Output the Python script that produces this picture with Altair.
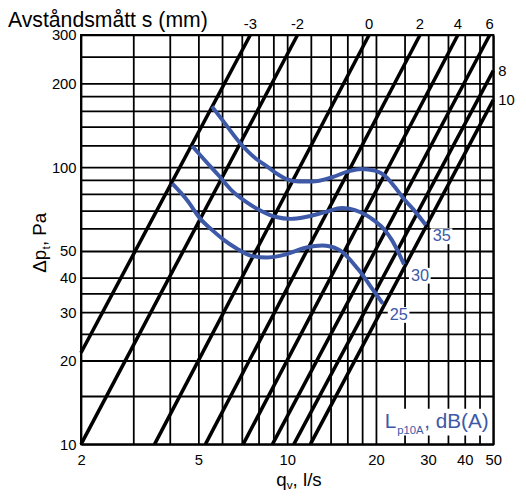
import altair as alt
import pandas as pd

# ---- grid / tick values ----
x_grid = [2, 3, 4, 5, 6, 7, 8, 9, 10, 12, 14, 16, 18, 20, 25, 30, 35, 40, 45, 50]
y_grid = [10, 15, 20, 25, 30, 35, 40, 50, 60, 70, 80, 90, 100, 120, 140, 160, 180, 200, 250, 300]
x_labels = [2, 5, 10, 20, 30, 40, 50]
y_labels = [10, 20, 30, 40, 50, 100, 200, 300]

# ---- setting lines (Avståndsmått s, mm): start and end points ----
s_labels = ["-3", "-2", "0", "2", "4", "6", "8", "10"]
s_q1 = [2.0, 2.0, 3.55, 5.28, 7.09, 8.91, 10.53, 11.98]
s_p1 = [21.4, 10, 10, 10, 10, 10, 10, 10]
s_q2 = [7.5, 10.84, 18.95, 28.2, 37.9, 48.6, 50, 50]
s_p2 = [300, 300, 300, 300, 300, 300, 223, 175]

# ---- sound level curves Lp10A dB(A) ----
q35 = [5.56, 6.08, 6.91, 7.86, 8.49, 9.17, 9.90, 10.97, 12.16, 14.19, 16.12, 17.87, 19.8, 21.4, 23.1, 25.1, 26.9, 29.5]
p35 = [165.5, 146.3, 122.5, 107.0, 101.2, 95.2, 90.8, 88.8, 88.8, 92.0, 96.6, 98.5, 97.2, 93.3, 85.2, 76.0, 70.0, 61.9]
q30 = [4.76, 5.35, 5.86, 6.48, 7.28, 8.17, 9.17, 10.29, 11.54, 13.47, 15.36, 16.97, 19.8, 21.4, 22.6, 24.9]
p30 = [119.3, 103.8, 93.3, 82.5, 74.8, 69.5, 66.1, 65.1, 66.1, 68.9, 71.2, 70.0, 64.0, 59.4, 54.8, 44.6]
q25 = [4.08, 4.58, 5.08, 5.56, 6.08, 6.74, 7.46, 8.49, 9.90, 11.54, 13.14, 14.93, 17.41, 19.8, 21.1]
p25 = [87.2, 76.0, 65.1, 59.4, 54.8, 50.9, 48.1, 47.2, 48.5, 51.2, 52.2, 50.5, 42.8, 35.4, 32.2]

W, H = 418, 415
FONT = "Liberation Sans"
BLUE = "#3d59a7"

xs = alt.Scale(type="log", domain=[2, 50], nice=False)
ys = alt.Scale(type="log", domain=[10, 300], nice=False)

xl = ",".join(str(v) for v in x_labels)
yl = ",".join(str(v) for v in y_labels)
common_axis = dict(grid=True, ticks=False, domain=False, labelFontSize=15, labelFont=FONT,
                   labelColor="black", labelOverlap=False, labelFlush=False, title=None,
                   gridColor="black", gridWidth=1.8, gridOpacity=1)
x_axis = alt.Axis(values=x_grid, labelPadding=8,
                  labelExpr=f"indexof([{xl}], datum.value) >= 0 ? format(datum.value, 'd') : ''",
                  **common_axis)
y_axis = alt.Axis(values=y_grid, labelPadding=5,
                  labelExpr=f"indexof([{yl}], datum.value) >= 0 ? format(datum.value, 'd') : ''",
                  **common_axis)

X = alt.X("q:Q", scale=xs, axis=x_axis)
Y = alt.Y("p:Q", scale=ys, axis=y_axis)

# setting lines
lrows = []
for s, a, b, c, d in zip(s_labels, s_q1, s_p1, s_q2, s_p2):
    lrows.append({"s": s, "q": a, "p": b, "i": 0})
    lrows.append({"s": s, "q": c, "p": d, "i": 1})
lines_df = pd.DataFrame(lrows)
lines = alt.Chart(lines_df).mark_line(color="black", strokeWidth=3.6).encode(
    x=X, y=Y, detail="s:N", order="i:Q")

top_df = pd.DataFrame({"s": s_labels[:6], "q": s_q2[:6]})
top_labels = alt.Chart(top_df).mark_text(baseline="alphabetic", fontSize=15, font=FONT, color="black").encode(
    x=X, y=alt.value(-6), text="s:N")
right_df = pd.DataFrame({"s": s_labels[6:], "p": s_p2[6:]})
right_labels = alt.Chart(right_df).mark_text(align="left", baseline="middle", dx=5, fontSize=15, font=FONT,
                                             color="black").encode(
    x=alt.value(W), y=Y, text="s:N")

# sound curves
crows = []
for lev, qs, ps in [("35", q35, p35), ("30", q30, p30), ("25", q25, p25)]:
    for i, (q, p) in enumerate(zip(qs, ps)):
        crows.append({"level": lev, "q": q, "p": p, "i": i})
curves_df = pd.DataFrame(crows)
curves = alt.Chart(curves_df).mark_line(color=BLUE, strokeWidth=4, interpolate="monotone").encode(
    x=X, y=Y, detail="level:N", order="i:Q")
end_df = curves_df.groupby("level", as_index=False).last()
label_bg = alt.Chart(end_df).mark_rect(color="white", width=22, height=16, xOffset=16, yOffset=11.5).encode(
    x=X, y=Y)
curve_labels = alt.Chart(end_df).mark_text(align="left", baseline="middle", dx=7, dy=11.5, fontSize=16.5,
                                           font=FONT, color=BLUE).encode(
    x=X, y=Y, text="level:N")


def txt(s, x, y, size, color="black", angle=0, align="left", baseline="alphabetic"):
    kw = dict(align=align, baseline=baseline, fontSize=size, font=FONT, color=color)
    if angle:
        kw["angle"] = angle
    return alt.Chart(pd.DataFrame({"t": [s]})).mark_text(**kw).encode(
        x=alt.value(x), y=alt.value(y), text="t:N")


legend_box = alt.Chart(pd.DataFrame({"a": [0]})).mark_rect(color="white").encode(
    x=alt.value(304), x2=alt.value(415), y=alt.value(379), y2=alt.value(406))

annotations = [
    txt("Avståndsmått s (mm)", -74, -8.5, 21.5),
    txt("Δp", -35, 241, 19, angle=270),
    txt("t", -31, 217.5, 12, angle=270),
    txt(", Pa", -35, 214, 19, angle=270),
    txt("q", 198, 457, 19),
    txt("v", 208.5, 460, 12),
    txt(", l/s", 214.5, 457, 19),
    txt("L", 308, 398, 21, color=BLUE),
    txt("p10A", 320.5, 404, 11.5, color=BLUE),
    txt(", dB(A)", 348, 398, 21, color=BLUE),
]

chart = alt.layer(lines, label_bg, curves, top_labels, right_labels, curve_labels, legend_box,
                  *annotations).properties(
    width=W, height=H,
    autosize=alt.AutoSizeParams(type="none"),
    padding={"left": 74, "top": 24, "right": 25, "bottom": 48},
).configure_view(stroke="black", strokeWidth=2)

chart.save("out.html", embed_options={"renderer": "svg", "actions": False})
